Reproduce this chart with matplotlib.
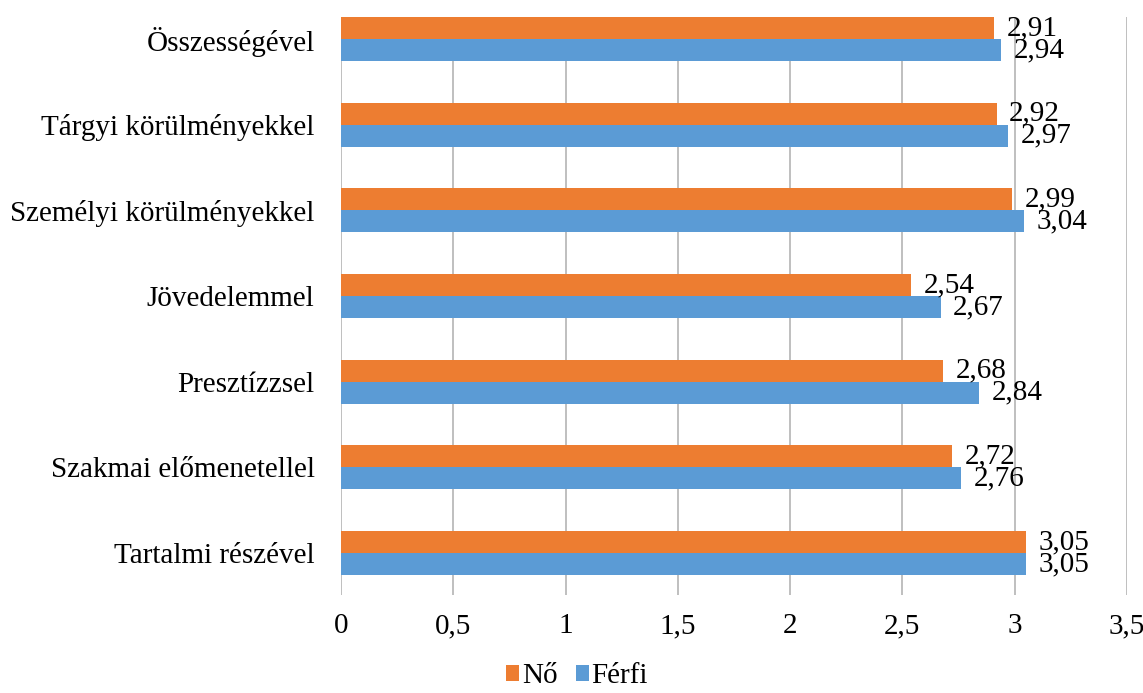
import matplotlib.pyplot as plt
import numpy as np

# ── data (bottom to top) ────────────────────────────────────────────────────
categories = ["Tartalmi részével", "Szakmai előmenetellel", "Presztízzsel",
              "Jövedelemmel", "Személyi körülményekkel", "Tárgyi körülményekkel",
              "Összességével"]
no_vals = [3.05, 2.72, 2.68, 2.54, 2.99, 2.92, 2.91]
ferfi_vals = [3.05, 2.76, 2.84, 2.67, 3.04, 2.97, 2.94]
series_names = ["Nő", "Férfi"]
x_ticks = [0, 0.5, 1, 1.5, 2, 2.5, 3, 3.5]

ORANGE = "#ED7D31"
BLUE = "#5B9BD5"
FS = 21

plt.rcParams["font.family"] = ["Liberation Serif", "DejaVu Serif"]

fig = plt.figure(figsize=(11.43, 6.93), dpi=100)
ax = fig.add_axes([0.2983, 0.1414, 0.6877, 0.8341])

y = np.arange(len(categories))
h = 0.256
b_no = ax.barh(y + h / 2, no_vals, height=h, color=ORANGE, label=series_names[0], zorder=3)
b_fe = ax.barh(y - h / 2, ferfi_vals, height=h, color=BLUE, label=series_names[1], zorder=3)

# value labels with comma decimals
for bars in (b_no, b_fe):
    labels = [f"{v:.2f}".replace(".", ",") for v in bars.datavalues]
    ax.bar_label(bars, labels=labels, padding=9, fontsize=FS, zorder=4)

ax.set_xlim(0, 3.5)
ax.set_ylim(-0.49, 6 + h)
ax.set_xticks(x_ticks)
ax.set_xticklabels([f"{t:g}".replace(".", ",") for t in x_ticks], fontsize=FS)
ax.set_yticks(y)
ax.set_yticklabels(categories, fontsize=FS)
ax.tick_params(axis="x", length=0, pad=13)
ax.tick_params(axis="y", length=0, pad=19)

ax.grid(axis="x", color="#BFBFBF", linewidth=1.4, zorder=0)
for s in ax.spines.values():
    s.set_visible(False)

fig.legend(handles=[b_no, b_fe], loc="center", bbox_to_anchor=(0.505, 0.024),
           ncol=2, frameon=False, fontsize=FS, handlelength=0.45, handleheight=0.45,
           handletextpad=0.1, columnspacing=0.6, borderpad=0.1)

fig.savefig("out.png", dpi=100)
